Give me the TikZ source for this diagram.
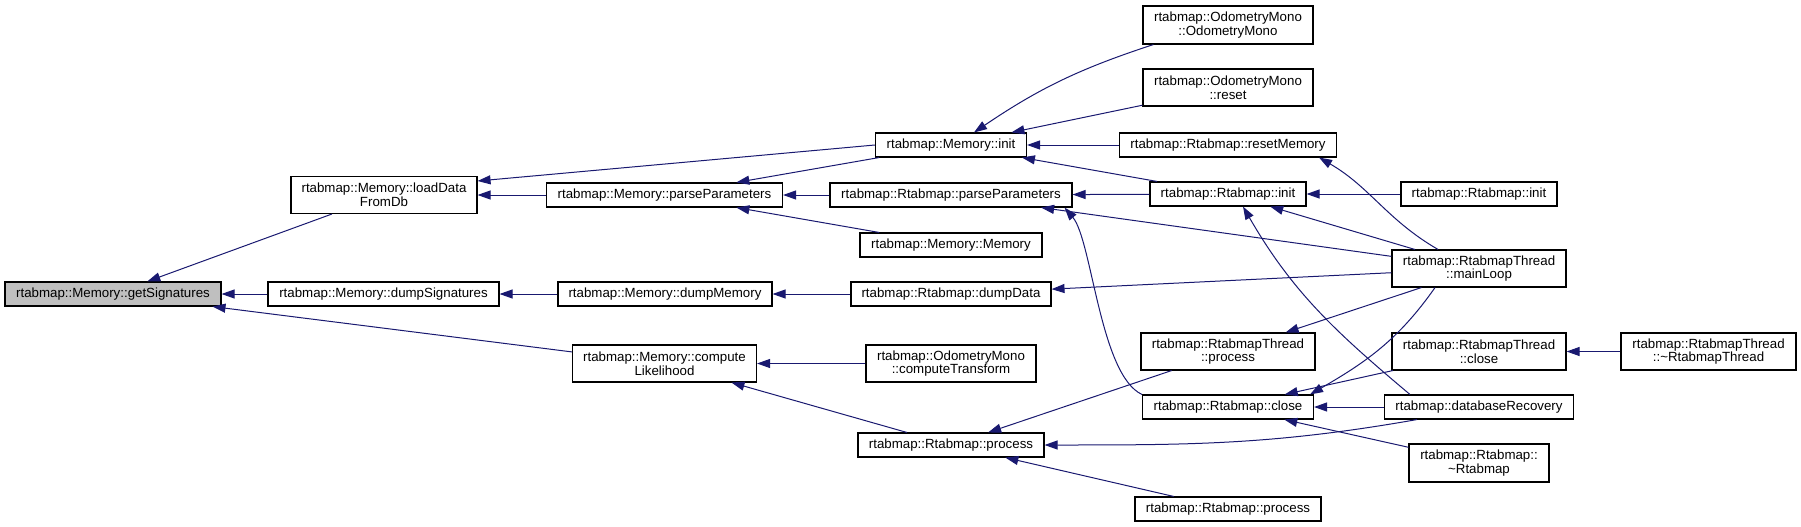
\documentclass[tikz,border=0pt]{standalone}
\usepackage{fontspec}
\setmainfont{Liberation Sans}
\usepackage{tikz}
\usetikzlibrary{arrows.meta}
\definecolor{callblue}{HTML}{191970}
\definecolor{selgray}{HTML}{BFBFBF}

\begin{document}
\begin{tikzpicture}[x=1pt,y=-1pt,>={Triangle[length=13pt,width=9pt]},
  fn/.style={draw=black,line width=1.1pt,fill=white,inner sep=0pt,align=center,minimum height=24pt,font=\fontsize{13.3}{13.6}\selectfont},
  fn2/.style={fn,minimum height=37pt},
  call/.style={->,draw=callblue,fill=none,line width=1pt}]
  \useasboundingbox (0,0) rectangle (1801,527);
  \node[fn,fill=selgray,minimum width=216pt] (gs) at (113,294) {rtabmap::Memory::getSignatures};
  \node[fn2,minimum width=186pt] (ld) at (384,195) {rtabmap::Memory::loadData\\FromDb};
  \node[fn,minimum width=231pt] (ds) at (383.5,294) {rtabmap::Memory::dumpSignatures};
  \node[fn2,minimum width=184pt] (cl) at (664.5,363.5) {rtabmap::Memory::compute\\Likelihood};
  \node[fn,minimum width=236pt] (mpp) at (664.5,195) {rtabmap::Memory::parseParameters};
  \node[fn,minimum width=214pt] (dm) at (665,294) {rtabmap::Memory::dumpMemory};
  \node[fn,minimum width=151pt] (mi) at (951,145) {rtabmap::Memory::init};
  \node[fn,minimum width=242pt] (rpp) at (951,195) {rtabmap::Rtabmap::parseParameters};
  \node[fn,minimum width=182pt] (mm) at (951,245) {rtabmap::Memory::Memory};
  \node[fn,minimum width=200pt] (dd) at (951,294) {rtabmap::Rtabmap::dumpData};
  \node[fn2,minimum width=170pt] (ct) at (951,363.5) {rtabmap::OdometryMono\\::computeTransform};
  \node[fn,minimum width=186pt] (rp1) at (951,445) {rtabmap::Rtabmap::process};
  \node[fn2,minimum width=170pt,minimum height=38pt] (om) at (1228,25) {rtabmap::OdometryMono\\::OdometryMono};
  \node[fn2,minimum width=170pt] (omr) at (1228,87.5) {rtabmap::OdometryMono\\::reset};
  \node[fn,minimum width=217pt] (rm) at (1228,145) {rtabmap::Rtabmap::resetMemory};
  \node[fn,minimum width=156pt] (ri1) at (1228,194) {rtabmap::Rtabmap::init};
  \node[fn2,minimum width=174pt] (tp) at (1228,351.5) {rtabmap::RtabmapThread\\::process};
  \node[fn,minimum width=171pt] (rc) at (1228,407) {rtabmap::Rtabmap::close};
  \node[fn,minimum width=186pt] (rp2) at (1228,509) {rtabmap::Rtabmap::process};
  \node[fn,minimum width=156pt] (ri2) at (1479,194) {rtabmap::Rtabmap::init};
  \node[fn2,minimum width=174pt] (ml) at (1479,268.5) {rtabmap::RtabmapThread\\::mainLoop};
  \node[fn2,minimum width=174pt] (tc) at (1479,351.5) {rtabmap::RtabmapThread\\::close};
  \node[fn,minimum width=189pt] (dr) at (1479,407) {rtabmap::databaseRecovery};
  \node[fn2,minimum width=140pt,minimum height=38pt] (rd) at (1479,463) {rtabmap::Rtabmap::\\\textasciitilde Rtabmap};
  \node[fn2,minimum width=175pt] (td) at (1708.5,351.5) {rtabmap::RtabmapThread\\::\textasciitilde RtabmapThread};
  \draw[call] (ld) -- (gs);
  \draw[call] (ds) -- (gs);
  \draw[call] (cl) -- (gs);
  \draw[call] (mi.west) -- ([yshift=14]ld.east);
  \draw[call] (mpp) -- (ld);
  \draw[call] (mi) -- (mpp);
  \draw[call] (rpp) -- (mpp);
  \draw[call] (mm) -- (mpp);
  \draw[call] (dm) -- (ds);
  \draw[call] (dd) -- (dm);
  \draw[call] (ct) -- (cl);
  \draw[call] (rp1) -- (cl);
  \draw[call] ([xshift=11]om.south west) to[bend right=8] ([xshift=23]mi.north);
  \draw[call] (omr) -- (mi);
  \draw[call] (rm) -- (mi);
  \draw[call] (ri1) -- (mi);
  \draw[call] (ri1) -- (rpp);
  \draw[call] (ml) -- (rpp);
  \draw[call] (rc.north west) .. controls (1100,375) and (1092,240) .. ([xshift=-8]rpp.south east);
  \draw[call] (ml) -- (dd);
  \draw[call] (tp) -- (rp1);
  \draw[call] ([xshift=33]dr.south west) to[out=190,in=0] (rp1.east);
  \draw[call] (rp2) -- (rp1);
  \draw[call] (ri2) -- (ri1);
  \draw[call] (ml) -- (ri1);
  \draw[call] ([xshift=26]dr.north west) to[out=140,in=-60] ([xshift=15]ri1.south);
  \draw[call] ([xshift=-41]ml.north) to[out=150,in=-30] ([xshift=-18]rm.south east);
  \draw[call] (ml) -- (tp);
  \draw[call] ([xshift=-44]ml.south) to[out=-125,in=30] ([xshift=-4]rc.north east);
  \draw[call] (tc) -- (rc);
  \draw[call] (dr) -- (rc);
  \draw[call] (rd) -- (rc);
  \draw[call] (td) -- (tc);
\end{tikzpicture}
\end{document}
